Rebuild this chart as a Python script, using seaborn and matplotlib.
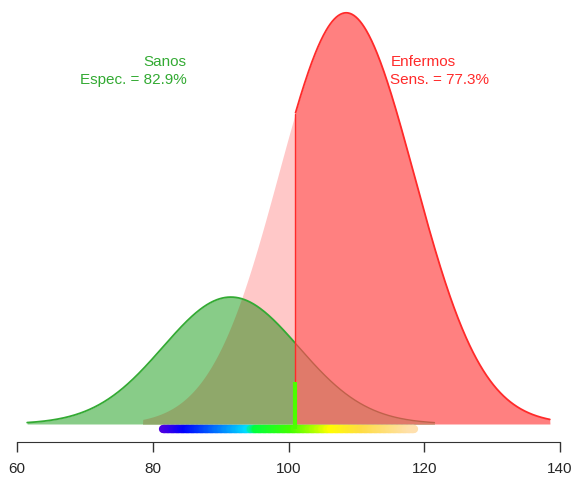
import numpy as np
import pandas as pd
import matplotlib
matplotlib.use("Agg")
import matplotlib.pyplot as plt
import seaborn as sns
from matplotlib.colors import LinearSegmentedColormap
from matplotlib.collections import LineCollection

# parameters
groups = ["Sanos", "Enfermos"]
means = [91.5, 108.5]
sds = [10.0, 10.0]
heights = [1.0, 3.24]          # relative scaling of each curve
threshold = 101
spec_txt = "Espec. = 82.9%"
sens_txt = "Sens. = 77.3%"
xticks = [60, 80, 100, 120, 140]
bar_range = [81.5, 118.5]

bar_stops = [0.0, 0.09, 0.34, 0.37, 0.52, 0.62, 0.67, 0.80, 1.0]
bar_colors = ["#5000e0", "#0000ff", "#00ddff", "#00ff40", "#44ff00",
              "#bbff00", "#ffff00", "#ffdd44", "#ffe0b0"]

sns.set_style("white")
plt.rcParams['font.family'] = ['Liberation Sans', 'DejaVu Sans']

fig = plt.figure(figsize=(5.74, 4.81), dpi=100)
ax = fig.add_axes([17 / 574, 38 / 481, 543 / 574, 443 / 481])


def curve(m, s, h):
    x = np.linspace(m - 3 * s, m + 3 * s, 600)
    y = h * np.exp(-0.5 * ((x - m) / s) ** 2) / (s * np.sqrt(2 * np.pi))
    return x, y


xg, yg = curve(means[0], sds[0], heights[0])
xr, yr = curve(means[1], sds[1], heights[1])
df = pd.DataFrame({"x": np.concatenate([xg, xr]),
                   "y": np.concatenate([yg, yr]),
                   "grupo": [groups[0]] * len(xg) + [groups[1]] * len(xr)})

# common grid for the overlap
xs = np.linspace(60, 140, 2000)
g_on = np.interp(xs, xg, yg, left=0, right=0)
r_on = np.interp(xs, xr, yr, left=0, right=0)
left = xs <= threshold
right = xs >= threshold
ov = np.minimum(g_on, r_on)

ax.fill_between(xs, 0, r_on, where=left, color="#ffc8c8", lw=0)
ax.fill_between(xs, 0, r_on, where=right, color="#ff8080", lw=0)
ax.fill_between(xs, 0, g_on, color="#88cc88", lw=0)
ax.fill_between(xs, 0, ov, where=left, color="#8fa86a", lw=0)
ax.fill_between(xs, 0, ov, where=right, color="#e07a6a", lw=0)

sg = df[df.grupo == groups[0]]
sns.lineplot(data=sg[sg.x <= threshold], x="x", y="y", color="#33aa33",
             lw=1.3, ax=ax, sort=False, estimator=None)
sns.lineplot(data=sg[sg.x >= threshold], x="x", y="y", color="#c0604a",
             lw=1.0, ax=ax, sort=False, estimator=None)
rr = df[(df.grupo == groups[1]) & (df.x >= threshold)]
sns.lineplot(data=rr, x="x", y="y", color="#ff2a2a", lw=1.3, ax=ax,
             sort=False, estimator=None)
r_thr = np.interp(threshold, xr, yr)
ax.plot([threshold, threshold], [0, r_thr], color="#ff2a2a", lw=1.0)

# color bar along the baseline
cmap = LinearSegmentedColormap.from_list("bar", list(zip(bar_stops, bar_colors)))
bx = np.linspace(bar_range[0], bar_range[1], 200)
by = np.full_like(bx, -0.0016)
segs = np.stack([np.column_stack([bx[:-1], by[:-1]]),
                 np.column_stack([bx[1:], by[1:]])], axis=1)
frac = (bx[:-1] - bar_range[0]) / (bar_range[1] - bar_range[0])
lc = LineCollection(segs, colors=cmap(frac), linewidths=6, capstyle="round")
ax.add_collection(lc)

thr_col = cmap((threshold - bar_range[0]) / (bar_range[1] - bar_range[0]))
ax.plot([threshold, threshold], [-0.0016, 0.0132], color=thr_col, lw=3,
        solid_capstyle="butt")

ax.text(85, 0.1141, groups[0], color="#33aa33", ha="right", va="center", fontsize=11)
ax.text(85, 0.1085, spec_txt, color="#33aa33", ha="right", va="center", fontsize=11)
ax.text(115, 0.1141, groups[1], color="#ff2a2a", ha="left", va="center", fontsize=11)
ax.text(115, 0.1085, sens_txt, color="#ff2a2a", ha="left", va="center", fontsize=11)

ax.set_xlim(60, 140)
ax.set_ylim(-0.00566, 0.1336)
ax.set_xticks(xticks)
ax.set_yticks([])
ax.set_xlabel("")
ax.set_ylabel("")
for s in ["top", "right", "left"]:
    ax.spines[s].set_visible(False)
ax.spines["bottom"].set_color("#333333")
ax.tick_params(axis="x", direction="out", length=7, width=1, color="#333333",
               labelsize=11, pad=7, bottom=True)
ax.patch.set_alpha(0)

fig.savefig("out.png", dpi=100)
